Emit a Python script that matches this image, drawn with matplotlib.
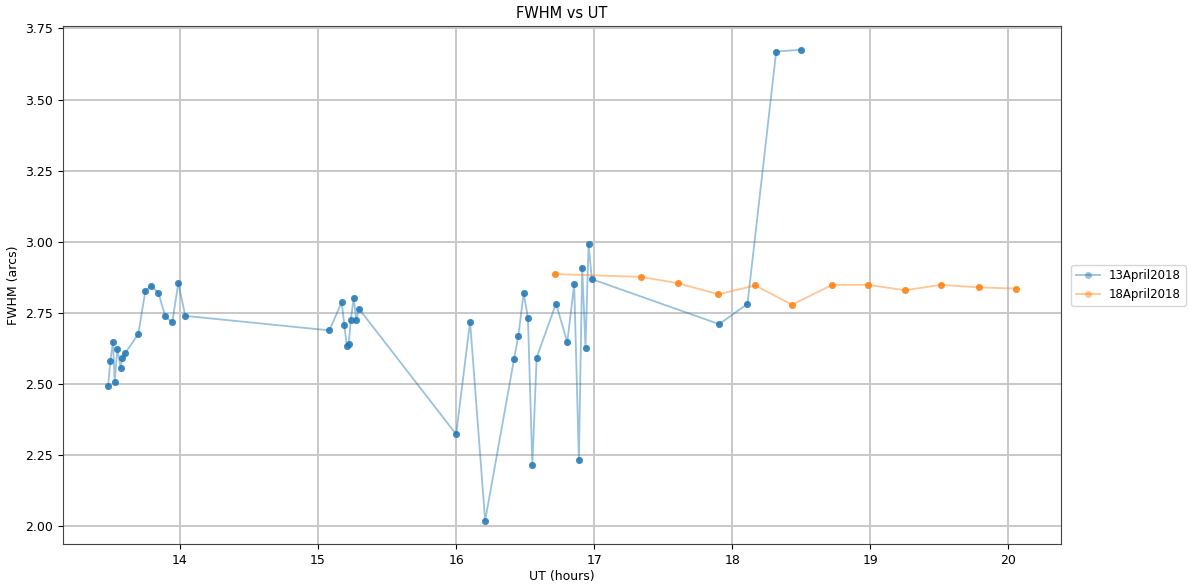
import numpy as np
import matplotlib
matplotlib.use("Agg")
import matplotlib.pyplot as plt

"Data read from the reference"
ut_13 = [13.479, 13.496, 13.515, 13.527, 13.546, 13.571, 13.582, 13.602, 13.698,
         13.749, 13.792, 13.843, 13.894, 13.944, 13.988, 14.038,
         15.082, 15.171, 15.190, 15.208, 15.222, 15.237, 15.258, 15.277, 15.296,
         16.000, 16.101, 16.210, 16.419, 16.451, 16.489, 16.520, 16.552, 16.583,
         16.723, 16.805, 16.855, 16.889, 16.913, 16.937, 16.959, 16.983,
         17.905, 18.110, 18.318, 18.495]
fwhm_13 = [2.492, 2.583, 2.649, 2.508, 2.624, 2.556, 2.593, 2.608, 2.676,
           2.827, 2.846, 2.821, 2.738, 2.717, 2.856, 2.740,
           2.689, 2.788, 2.709, 2.635, 2.642, 2.725, 2.804, 2.725, 2.765,
           2.324, 2.720, 2.020, 2.587, 2.671, 2.820, 2.733, 2.215, 2.593,
           2.783, 2.648, 2.851, 2.234, 2.910, 2.627, 2.991, 2.869,
           2.711, 2.782, 3.669, 3.675]

ut_18 = [16.715, 17.337, 17.605, 17.898, 18.167, 18.432, 18.724, 18.984,
         19.250, 19.510, 19.790, 20.055]
fwhm_18 = [2.887, 2.877, 2.855, 2.816, 2.847, 2.779, 2.849, 2.849,
           2.830, 2.849, 2.840, 2.836]

plt.rcParams['font.size'] = 9

fig = plt.figure(figsize=(11.89, 5.84), dpi=100)
ax = fig.add_axes([0.0527, 0.068, 0.840, 0.887])

ax.plot(ut_13, fwhm_13, marker='o', markersize=5, lw=1.3, alpha=0.45,
        color='tab:blue', mec='none', label='13April2018')
ax.plot(ut_13, fwhm_13, marker='o', markersize=5, lw=0, alpha=0.75,
        color='tab:blue', mec='none')
ax.plot(ut_18, fwhm_18, marker='o', markersize=5, lw=1.3, alpha=0.45,
        color='tab:orange', mec='none', label='18April2018')
ax.plot(ut_18, fwhm_18, marker='o', markersize=5, lw=0, alpha=0.75,
        color='tab:orange', mec='none')

ax.grid(True, color='#c8c8c8', linewidth=1.4)
ax.set_axisbelow(True)
for s in ax.spines.values():
    s.set_color('#444444')
ax.yaxis.set_major_formatter(matplotlib.ticker.FormatStrFormatter('%.2f'))

ax.set_title('FWHM vs UT', fontsize=10.5)
ax.set_xlabel('UT (hours)', labelpad=2)
ax.set_ylabel('FWHM (arcs)')
ax.legend(loc='center left', bbox_to_anchor=(1.004, 0.5), fontsize=8.5)

fig.savefig('out.png', dpi=100)
